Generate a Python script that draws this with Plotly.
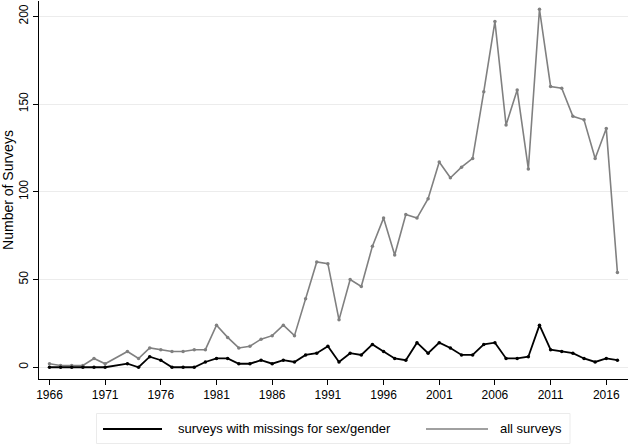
import plotly.graph_objects as go

years = [1966, 1967, 1968, 1969, 1970, 1971, 1973, 1974, 1975, 1976, 1977, 1978,
         1979, 1980, 1981, 1982, 1983, 1984, 1985, 1986, 1987, 1988, 1989, 1990,
         1991, 1992, 1993, 1994, 1995, 1996, 1997, 1998, 1999, 2000, 2001, 2002,
         2003, 2004, 2005, 2006, 2007, 2008, 2009, 2010, 2011, 2012, 2013, 2014,
         2015, 2016, 2017]

missing_sex = [0, 0, 0, 0, 0, 0, 2, 0, 6, 4, 0, 0,
               0, 3, 5, 5, 2, 2, 4, 2, 4, 3, 7, 8,
               12, 3, 8, 7, 13, 9, 5, 4, 14, 8, 14, 11,
               7, 7, 13, 14, 5, 5, 6, 24, 10, 9, 8, 5,
               3, 5, 4]

all_surveys = [2, 1, 1, 1, 5, 2, 9, 5, 11, 10, 9, 9,
               10, 10, 24, 17, 11, 12, 16, 18, 24, 18, 39, 60,
               59, 27, 50, 46, 69, 85, 64, 87, 85, 96, 117, 108,
               114, 119, 157, 197, 138, 158, 113, 204, 160, 159, 143, 141,
               119, 136, 54]

x_ticks = list(range(1966, 2017, 5))
y_ticks = [0, 50, 100, 150, 200]

name_missing = "surveys with missings for sex/gender"
name_all = "all surveys"

BLACK = "#000000"
GRAY = "#808080"

W, H = 628, 444
ML, MR, MT, MB = 39, 0, 1, 65
PW, PH = W - ML - MR, H - MT - MB


def px(x):
    return (x - ML) / PW


def py(y):
    return (H - MB - y) / PH


fig = go.Figure()
fig.add_trace(go.Scatter(x=years, y=all_surveys, mode="lines+markers", name=name_all,
                         line=dict(color=GRAY, width=1.6),
                         marker=dict(color=GRAY, size=3.5),
                         showlegend=False))
fig.add_trace(go.Scatter(x=years, y=missing_sex, mode="lines+markers", name=name_missing,
                         line=dict(color=BLACK, width=1.8),
                         marker=dict(color=BLACK, size=3.5),
                         showlegend=False))

# legend drawn as box + line samples + text
shapes = [
    dict(type="rect", xref="paper", yref="paper", x0=px(96.5), x1=px(570), y0=py(443.5), y1=py(413.5),
         line=dict(color="#ebebeb", width=1), fillcolor="white", layer="above"),
    dict(type="line", xref="paper", yref="paper", x0=px(103), x1=px(162), y0=py(429), y1=py(429),
         line=dict(color=BLACK, width=1.8)),
    dict(type="line", xref="paper", yref="paper", x0=px(426), x1=px(488), y0=py(429), y1=py(429),
         line=dict(color=GRAY, width=1.6)),
]
annotations = [
    dict(text=name_missing, xref="paper", yref="paper", x=px(176), y=py(428.5),
         xanchor="left", yanchor="middle", showarrow=False, font=dict(size=13)),
    dict(text=name_all, xref="paper", yref="paper", x=px(497.5), y=py(428.5),
         xanchor="left", yanchor="middle", showarrow=False, font=dict(size=13)),
]

fig.update_layout(
    width=W, height=H,
    margin=dict(l=ML, r=MR, t=MT, b=MB),
    paper_bgcolor="white", plot_bgcolor="white",
    font=dict(family="Liberation Sans, Arial, Helvetica, sans-serif", size=12, color="black"),
    showlegend=False,
    shapes=shapes,
    annotations=annotations,
)
fig.update_xaxes(range=[1965.06, 2017.95], tickvals=x_ticks, ticks="outside", ticklen=5,
                 tickcolor="black", showline=True, linecolor="black", linewidth=1,
                 showgrid=False, zeroline=False, automargin=False)
fig.update_yaxes(range=[-6.7, 208.7], tickvals=y_ticks, ticks="outside", ticklen=5,
                 tickcolor="black", tickangle=-90, showline=True, linecolor="black",
                 linewidth=1, showgrid=True, gridcolor="#ececec", gridwidth=1,
                 zeroline=False, automargin=False,
                 title=dict(text="Number of Surveys", standoff=4))

fig.write_html("out.html", config={"displayModeBar": False},
               post_script="document.body.style.margin='0';")
